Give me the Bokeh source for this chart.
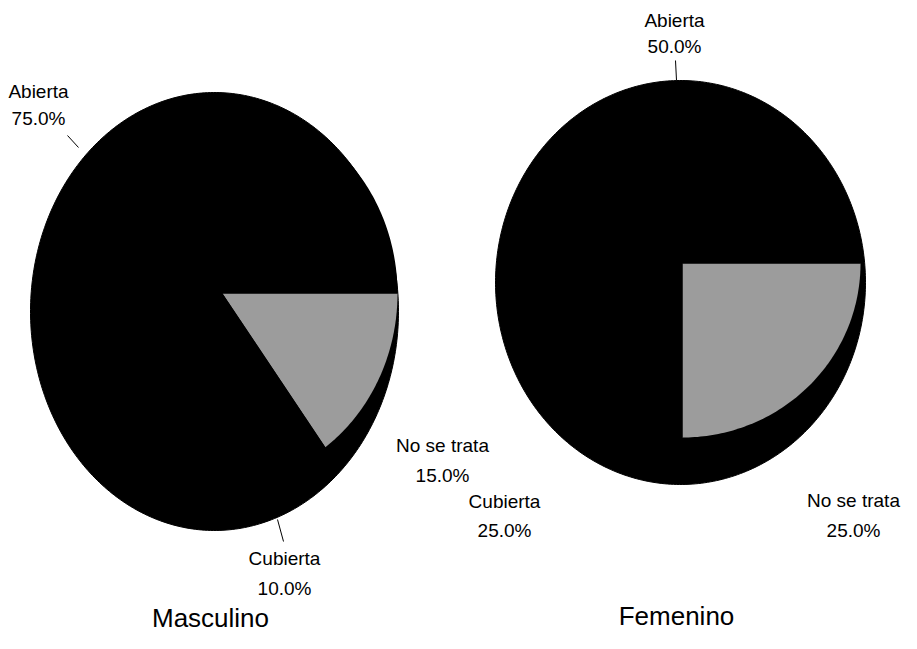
import numpy as np
from bokeh.plotting import figure
from bokeh.models import Range1d
from bokeh.core.properties import value
from bokeh.embed import file_html
from bokeh.resources import INLINE

# ---- data ----
categories = ["No se trata", "Cubierta", "Abierta"]
masculino = [15.0, 10.0, 75.0]
femenino = [25.0, 25.0, 50.0]
titles = ["Masculino", "Femenino"]
slice_colors = ["#9c9c9c", "#000000", "#000000"]

FONT = value("Liberation Sans")
LABEL_SIZE = "19px"
TITLE_SIZE = "26px"

W, H = 901, 633
# data coordinates in pixels, y downward
p = figure(width=W, height=H, output_backend="svg", toolbar_location=None,
           x_range=Range1d(0, W), y_range=Range1d(H, 0),
           min_border=0, outline_line_color=None, background_fill_color="white",
           border_fill_color="white")
p.axis.visible = False
p.grid.visible = False

# label positions: (x center, y middle of name line, y middle of percent line)
pies = [
    dict(vals=masculino, body=(214, 311, 184, 219), sl=(222, 293, 175, 190),
         title=(210, 617),
         labels={"Abierta": (38, 91, 118), "Cubierta": (284, 558, 588), "No se trata": (442, 445, 475)},
         leaders={"Abierta": ((67, 135), (78, 147)), "Cubierta": ((277, 519), (283, 541))}),
    dict(vals=femenino, body=(680, 282, 185, 202), sl=(682, 263, 178, 174),
         title=(676, 615),
         labels={"Abierta": (674, 20, 46), "Cubierta": (504, 501, 530), "No se trata": (853, 500, 530)},
         leaders={"Abierta": ((675, 60), (676, 80))}),
]

def arc_pts(cx, cy, rx, ry, a0, a1, center=True):
    t = np.linspace(a0, a1, max(8, int(abs(a1 - a0) * 60)))
    xs = list(cx + rx * np.cos(t))
    ys = list(cy + ry * np.sin(t))
    if center:
        xs = [cx] + xs
        ys = [cy] + ys
    return xs, ys

for i, pie in enumerate(pies):
    bx, by, brx, bry = pie["body"]
    xs, ys = arc_pts(bx, by, brx, bry, 0, 2 * np.pi, center=False)
    p.patch(xs, ys, fill_color="black", line_color="black", line_width=1)

    sx, sy, srx, sry = pie["sl"]
    total = sum(pie["vals"])
    start = 0.0
    pxs, pys, cols = [], [], []
    for v, c in zip(pie["vals"], slice_colors):
        a0 = start / total * 2 * np.pi
        a1 = (start + v) / total * 2 * np.pi
        px, py = arc_pts(sx, sy, srx, sry, a0, a1)
        pxs.append(px); pys.append(py); cols.append(c)
        start += v
    p.patches(pxs, pys, fill_color=cols, line_color=None)

    for cat, v in zip(categories, pie["vals"]):
        lx, ly1, ly2 = pie["labels"][cat]
        p.text(x=[lx], y=[ly1], text=[cat], text_font=FONT, text_font_size=LABEL_SIZE,
               text_align="center", text_baseline="middle", text_color="black")
        p.text(x=[lx], y=[ly2], text=[f"{v:.1f}%"], text_font=FONT, text_font_size=LABEL_SIZE,
               text_align="center", text_baseline="middle", text_color="black")
    for cat, ((x0, y0), (x1, y1)) in pie["leaders"].items():
        p.segment(x0=[x0], y0=[y0], x1=[x1], y1=[y1], line_color="black", line_width=1)

    tx, ty = pie["title"]
    p.text(x=[tx], y=[ty], text=[titles[i]], text_font=FONT, text_font_size=TITLE_SIZE,
           text_align="center", text_baseline="middle", text_color="black")

open("out.html", "w").write(file_html(p, INLINE))
